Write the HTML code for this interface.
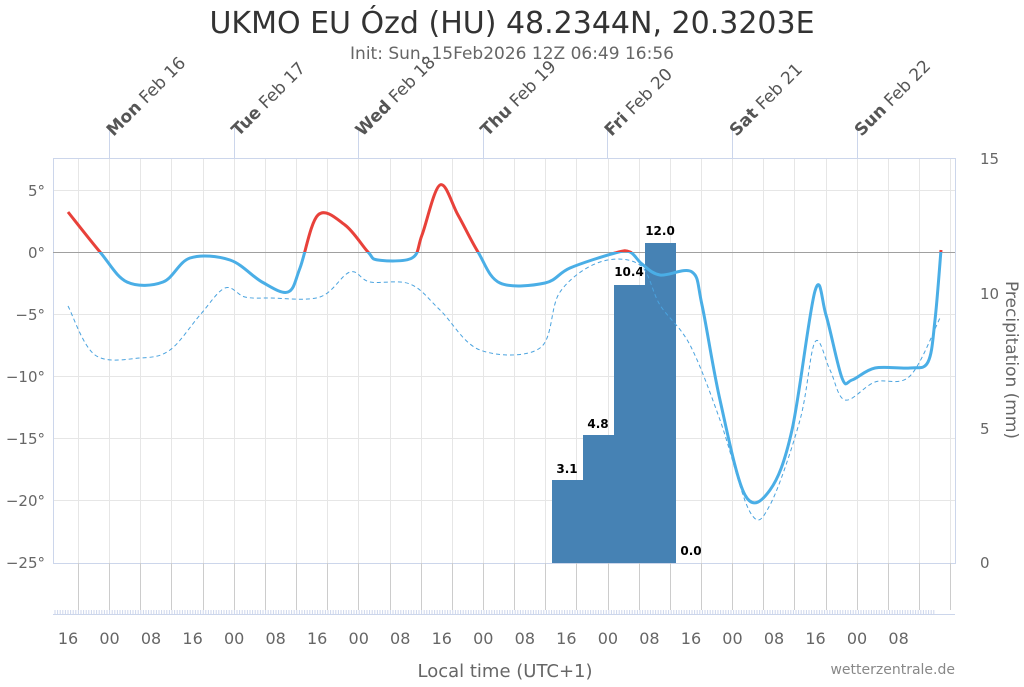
<!DOCTYPE html>
<html><head><meta charset="utf-8"><style>
body{margin:0;background:#fff;width:1024px;height:682px;overflow:hidden}
svg{font-family:"DejaVu Sans","Liberation Sans",sans-serif}
</style></head><body>
<svg id="s" width="1024" height="682" xmlns="http://www.w3.org/2000/svg">
<defs>
<clipPath id="up"><rect x="0" y="0" width="1024" height="252"/></clipPath>
<clipPath id="dn"><rect x="0" y="252" width="1024" height="430"/></clipPath>
</defs>
<rect width="1024" height="682" fill="#fff"/>
<g id="grid" stroke="#e6e6e6" stroke-width="1"></g>
<g stroke="#e6e6e6">
<line x1="53" x2="955" y1="190.5" y2="190.5"/>
<line x1="53" x2="955" y1="314.5" y2="314.5"/>
<line x1="53" x2="955" y1="376.5" y2="376.5"/>
<line x1="53" x2="955" y1="438.5" y2="438.5"/>
<line x1="53" x2="955" y1="500.5" y2="500.5"/>
</g>
<rect x="53.5" y="158.5" width="902" height="405" fill="none" stroke="#ccd6eb"/>
<line x1="53" x2="955" y1="252.5" y2="252.5" stroke="#a0a0a0"/>
<g id="days" stroke="#ccd6eb"></g>
<g fill="#4682b4">
<rect x="552" y="480" width="31" height="83"/>
<rect x="583" y="435" width="31" height="128"/>
<rect x="614" y="285" width="31" height="278"/>
<rect x="645" y="243" width="31" height="320"/>
</g>
<g font-size="12" font-weight="bold" fill="#000" text-anchor="middle">
<text x="567" y="473">3.1</text><text x="598" y="428">4.8</text>
<text x="629" y="276">10.4</text><text x="660" y="235">12.0</text>
<text x="691" y="555">0.0</text>
</g>
<path id="dash" fill="none" stroke="#4aa3df" stroke-width="1" stroke-dasharray="4,3"/>
<path id="tr" fill="none" stroke="#e8413a" stroke-width="3" clip-path="url(#up)"/>
<path id="tb" fill="none" stroke="#4aaee6" stroke-width="3" clip-path="url(#dn)"/>
<g font-size="15" fill="#666" text-anchor="end">
<text x="45" y="196">5°</text><text x="45" y="258">0°</text><text x="45" y="320">−5°</text>
<text x="45" y="382">−10°</text><text x="45" y="444">−15°</text><text x="45" y="506">−20°</text>
<text x="45" y="568">−25°</text>
</g>
<g font-size="15" fill="#666">
<text x="980" y="164">15</text><text x="980" y="299">10</text><text x="980" y="434">5</text><text x="980" y="568">0</text>
</g>
<text transform="translate(1006,360) rotate(90)" font-size="17" fill="#666" text-anchor="middle">Precipitation (mm)</text>
<g id="bot" stroke="#ccc"></g>
<line x1="53" x2="955" y1="614.5" y2="614.5" stroke="#ccd6eb"/>
<g id="mt" stroke="#ccd6eb"></g>
<g id="bl" font-size="16" fill="#666" text-anchor="middle"></g>
<text x="505" y="677" font-size="18" fill="#666" text-anchor="middle">Local time (UTC+1)</text>
<text x="955" y="674" font-size="14" fill="#888" text-anchor="end">wetterzentrale.de</text>
<text x="512" y="33" font-size="30" fill="#333" text-anchor="middle">UKMO EU Ózd (HU) 48.2344N, 20.3203E</text>
<text x="512" y="59" font-size="17" fill="#666" text-anchor="middle">Init: Sun, 15Feb2026 12Z 06:49 16:56</text>
<g id="dl" font-size="17" fill="#555"></g>
</svg>
<script>
var NS="http://www.w3.org/2000/svg";
function el(p,t,a,txt){var e=document.createElementNS(NS,t);for(var k in a)e.setAttribute(k,a[k]);if(txt)e.textContent=txt;document.getElementById(p).appendChild(e);return e;}
var step=124.6/4;
for(var i=0;i<29;i++){var x=Math.round(78+i*step)+0.5;if(x>955)break;
 el("grid","line",{x1:x,x2:x,y1:158,y2:563});
 el("bot","line",{x1:x,x2:x,y1:563,y2:610});}
for(var x=55;x<935;x+=2.6){el("mt","line",{x1:x,x2:x,y1:610,y2:615});}
var labs=["16","00","08"];
for(var i=0;i<21;i++){el("bl","text",{x:68+i*41.53,y:644},labs[i%3]);}
var days=[["Mon","Feb 16"],["Tue","Feb 17"],["Wed","Feb 18"],["Thu","Feb 19"],["Fri","Feb 20"],["Sat","Feb 21"],["Sun","Feb 22"]];
for(var i=0;i<7;i++){var x=Math.round(109+i*124.6)+0.5;
 el("days","line",{x1:x,x2:x,y1:128,y2:158});
 var t=el("dl","text",{transform:"translate("+(x+4)+",137) rotate(-45)"});
 var b=document.createElementNS(NS,"tspan");b.setAttribute("font-weight","bold");b.textContent=days[i][0];t.appendChild(b);
 var n=document.createElementNS(NS,"tspan");n.textContent=" "+days[i][1];t.appendChild(n);}
function cr(p){var d="M"+p[0][0]+","+p[0][1];for(var i=0;i<p.length-1;i++){var p0=p[i-1]||p[i],p1=p[i],p2=p[i+1],p3=p[i+2]||p2;
 d+=" C"+(p1[0]+(p2[0]-p0[0])/6)+","+(p1[1]+(p2[1]-p0[1])/6)+" "+(p2[0]-(p3[0]-p1[0])/6)+","+(p2[1]-(p3[1]-p1[1])/6)+" "+p2[0]+","+p2[1];}return d;}
var T=[[68,212],[100,252],[127,282],[163,282],[190,258],[230,260],[262,282],[288,292],[300,268],[318,215],[345,225],[368,252],[378,260],[412,258],[422,235],[440,185],[458,215],[478,252],[500,283],[545,283],[570,268],[615,253],[630,252],[642,264],[660,275],[692,272],[702,305],[720,400],[745,495],[770,490],[792,430],[815,291],[826,315],[842,378],[852,380],[875,368],[910,368],[928,362],[935,320],[941,250]];
var D=[[68,306],[95,355],[140,358],[170,350],[200,315],[225,288],[245,297],[270,298],[320,297],[350,272],[370,282],[410,284],[440,310],[480,350],[540,348],[560,292],[600,262],[640,265],[660,305],[690,345],[720,420],[750,512],[770,505],[800,420],[815,342],[830,370],[845,400],[875,382],[910,376],[940,318]];
var t=cr(T);document.getElementById("tr").setAttribute("d",t);document.getElementById("tb").setAttribute("d",t);
document.getElementById("dash").setAttribute("d",cr(D));
</script>
</body></html>
